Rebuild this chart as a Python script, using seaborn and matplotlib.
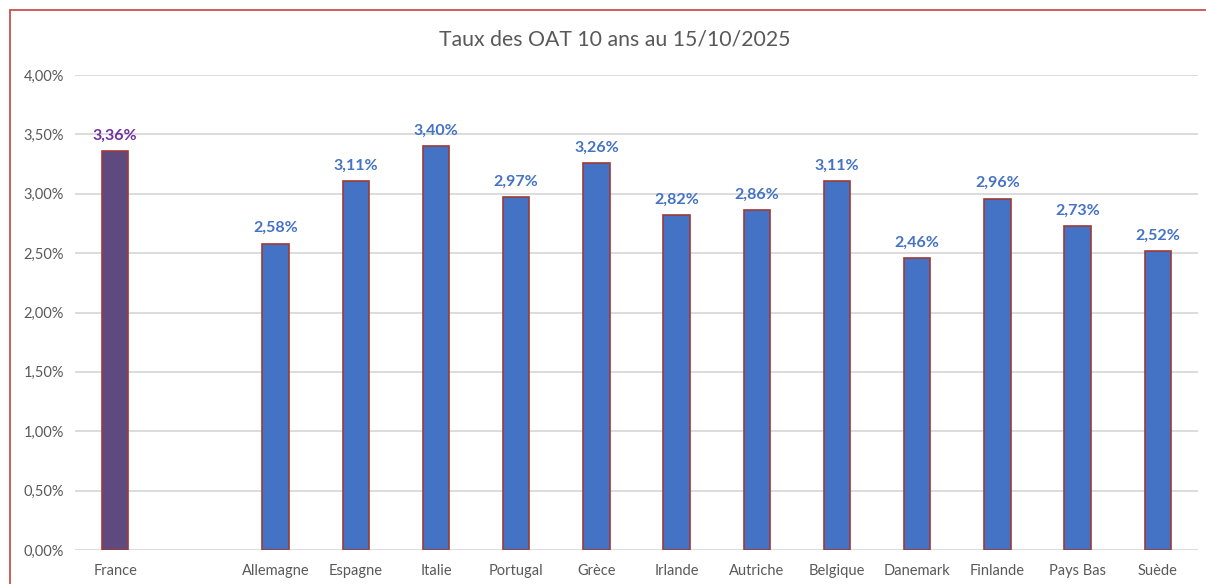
import pandas as pd
import matplotlib.pyplot as plt
import seaborn as sns
from matplotlib.patches import Rectangle

pays = ['France', 'Allemagne', 'Espagne', 'Italie', 'Portugal', 'Grèce', 'Irlande',
        'Autriche', 'Belgique', 'Danemark', 'Finlande', 'Pays Bas', 'Suède']
taux = [3.36, 2.58, 3.11, 3.40, 2.97, 3.26, 2.82, 2.86, 3.11, 2.46, 2.96, 2.73, 2.52]
# empty slot after France in the original chart
ordre = ['France', ''] + pays[1:]

df = pd.DataFrame({'pays': pays, 'taux': [t / 100 for t in taux]})
couleurs = {p: '#4472C4' for p in pays}
couleurs['France'] = '#5E4A7E'

sns.set_style('white')
plt.rcParams['font.family'] = ['Lato', 'DejaVu Sans']

fig = plt.figure(figsize=(12.06, 5.84), dpi=100)
ax = fig.add_axes([75 / 1206, 1 - 550 / 584, (1198 - 75) / 1206, (550 - 75) / 584])

sns.barplot(data=df, x='pays', y='taux', hue='pays', order=ordre, palette=couleurs,
            legend=False, width=0.33, saturation=1, edgecolor='#9E3B36', linewidth=1.2,
            ax=ax, zorder=3)

ax.set_ylim(0, 0.04)
ax.set_yticks([i * 0.005 for i in range(9)])
ax.set_yticklabels([f'{i * 0.5:.2f}%'.replace('.', ',') for i in range(9)])
ax.grid(axis='y', color='#D9D9D9', linewidth=1.3, zorder=0)
ax.set_axisbelow(True)
for s in ax.spines.values():
    s.set_visible(False)
ax.tick_params(axis='both', length=0, colors='#595959', labelsize=10.5)
ax.tick_params(axis='x', pad=10)
ax.tick_params(axis='y', pad=8)
ax.set_xlabel('')
ax.set_ylabel('')

for c in ax.containers:
    vals = c.datavalues
    labels = [f'{v * 100:.2f}%'.replace('.', ',') for v in vals]
    txts = ax.bar_label(c, labels=labels, padding=6, fontsize=11.5, fontweight='bold', color='#4472C4')
    for t, v in zip(txts, vals):
        if abs(v * 100 - 3.36) < 1e-6:
            t.set_color('#7030A0')

fig.text(615 / 1206, 1 - 40 / 584, 'Taux des OAT 10 ans au 15/10/2025', ha='center', va='center',
         fontsize=15.3, color='#595959')

fig.patches.append(Rectangle((10 / 1206, -0.05), 1.1, 1 - 10 / 584 + 0.05,
                             transform=fig.transFigure, fill=False,
                             edgecolor='#C9504D', linewidth=1.3))

fig.savefig('out.png', dpi=100)
